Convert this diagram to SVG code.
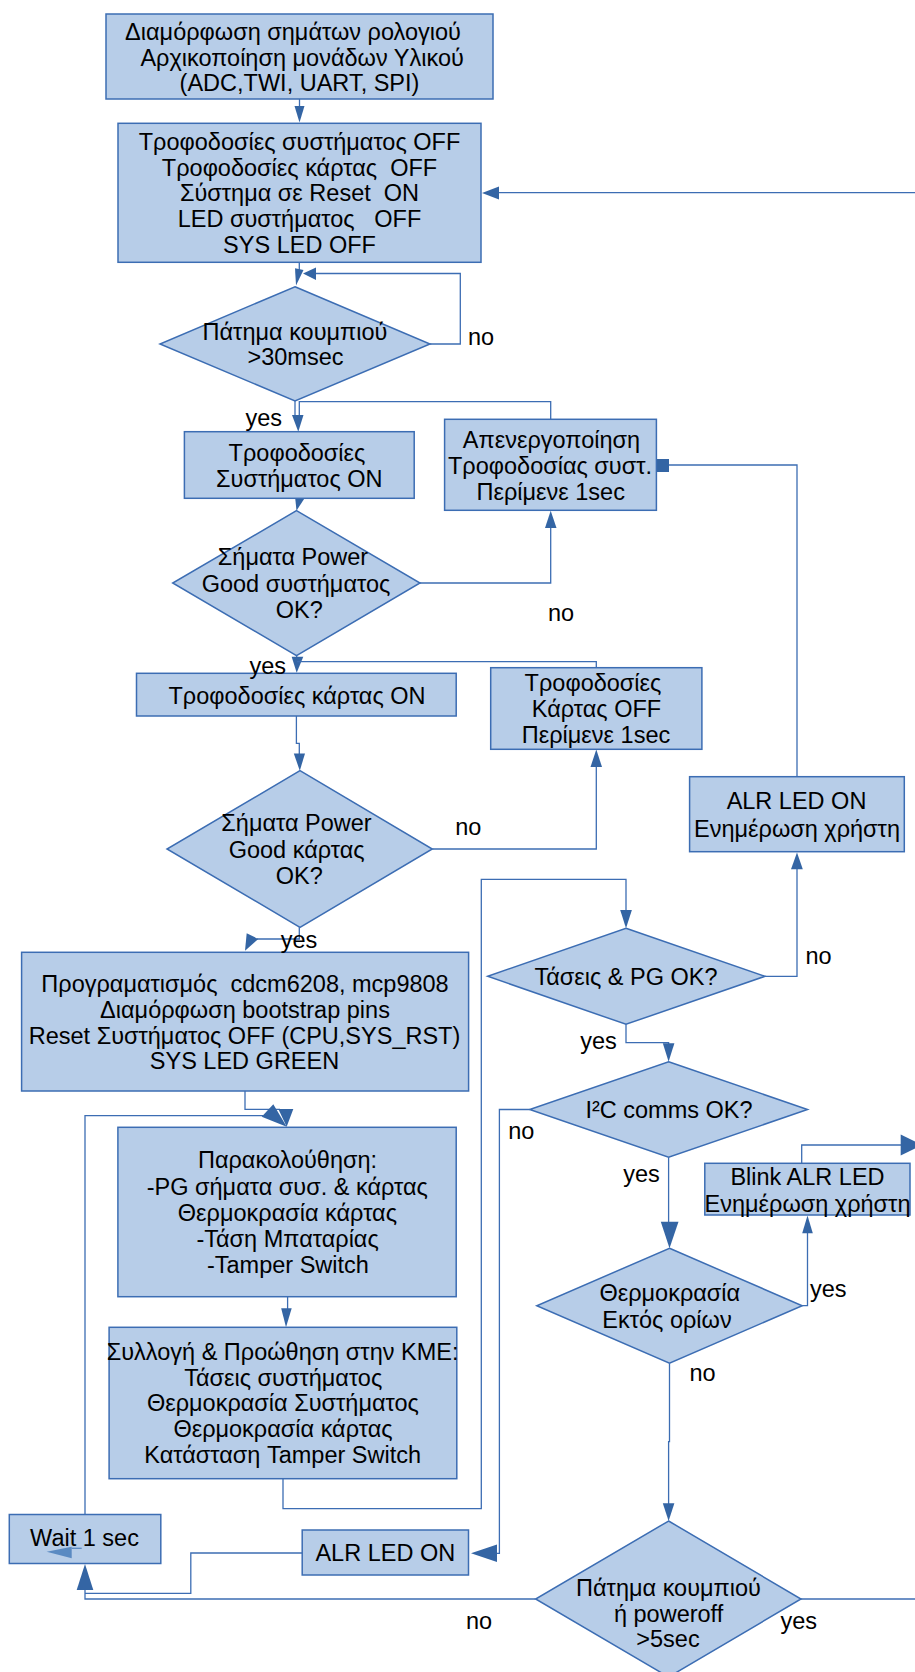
<svg xmlns="http://www.w3.org/2000/svg" width="915" height="1672" viewBox="0 0 915 1672">
<style>
.box{fill:#b7cde8;stroke:#3c6db3;stroke-width:1.5}
.ln{fill:none;stroke:#3c6db3;stroke-width:1.3}
.ah{fill:#3465a4;stroke:none}
text{font-family:"Liberation Sans",Arial,sans-serif;font-size:23.5px;fill:#000;text-anchor:middle;white-space:pre}
</style>
<rect width="915" height="1672" fill="#fff"/>
<g id="connectors">
<!-- box1 -> box2 -->
<path class="ln" d="M299.5,98 V108"/>
<polygon class="ah" points="294.5,106 304.5,106 299.5,122.5"/>
<!-- right edge -> box2 -->
<path class="ln" d="M915,192.7 H498"/>
<polygon class="ah" points="499,186.5 499,199.5 482,193"/>
<!-- box2 -> diamond1 -->
<path class="ln" d="M299.3,262.3 V270"/>
<polygon class="ah" points="295,268.3 303.5,270 296,285.5"/>
<!-- diamond1 no loop -->
<path class="ln" d="M430,344 H460.3 V273.5 H314"/>
<polygon class="ah" points="316,267.5 316,280 303,273.5"/>
<!-- diamond1 yes -> box3 -->
<path class="ln" d="M295,401 V416 M299.3,401 V416"/>
<polygon class="ah" points="292,415 303.5,415 298.3,431.7"/>
<!-- box4 top -> join -->
<path class="ln" d="M550.7,419.3 V401.7 H299.3"/>
<!-- box3 -> diamond2 -->
<polygon class="ah" points="295,496 306,496 296.5,510.7"/>
<!-- diamond2 no -> box4 -->
<path class="ln" d="M420,583 H550.7 V527"/>
<polygon class="ah" points="545,528 556.5,528 550.7,510.8"/>
<!-- diamond2 yes -> box5 -->
<path class="ln" d="M296.7,655.7 V658"/>
<polygon class="ah" points="291.7,656.7 303.3,656.7 296.7,672.7"/>
<path class="ln" d="M297,661.7 H596.3 V667.7"/>
<!-- box5 -> diamond3 -->
<path class="ln" d="M296.4,716 V743.3 H299.3 V755"/>
<polygon class="ah" points="293.8,753.5 305,753.5 299.8,770.7"/>
<!-- diamond3 no -> box6 -->
<path class="ln" d="M432.3,849 H596.3 V766"/>
<polygon class="ah" points="590.5,767 602,767 596.3,749.5"/>
<!-- box7 -> box4 -->
<path class="ln" d="M797,776.7 V465 H668"/>
<rect class="ah" x="656" y="459" width="13" height="13"/>
<!-- diamond3 yes -> box8 -->
<path class="ln" d="M299.3,927.3 V939 H257"/>
<polygon class="ah" points="246.7,933.3 258.3,939 245,950.7"/>
<!-- box8 -> box10 -->
<path class="ln" d="M245,1091 V1109.3 H280"/>
<polygon class="ah" points="278.3,1109 293.3,1109 286.7,1126.7"/>
<!-- wait -> box10 -->
<path class="ln" d="M85,1514.5 V1115.7 H263"/>
<polygon class="ah" points="261.7,1116.7 273.3,1104.3 286.7,1126.7"/>
<!-- box10 -> box11 -->
<path class="ln" d="M287.6,1296.7 V1309"/>
<polygon class="ah" points="281.2,1308.3 291.7,1308.3 286,1327.3"/>
<!-- box11 -> diamond4 -->
<path class="ln" d="M283,1478.7 V1508.7 H481.3 V879.3 H626 V911"/>
<polygon class="ah" points="620.2,910 631.9,910 626,928.3"/>
<!-- diamond4 no -> box7 -->
<path class="ln" d="M765,976.3 H797 V868"/>
<polygon class="ah" points="791,869.3 802.8,869.3 797,852.5"/>
<!-- diamond4 yes -> diamond5 -->
<path class="ln" d="M626,1024.3 V1042.7 H668.6 V1044"/>
<polygon class="ah" points="662.8,1043.3 674.4,1043.3 668.6,1061.7"/>
<!-- diamond5 no -> box12 -->
<path class="ln" d="M529.7,1109.5 H499.4 V1553.3 H496"/>
<polygon class="ah" points="497,1544.5 497,1562 471,1553.3"/>
<!-- diamond5 yes -> diamond6 -->
<path class="ln" d="M668.6,1157.3 V1223"/>
<polygon class="ah" points="660.8,1221.7 678.5,1221.7 669.5,1248.3"/>
<!-- diamond6 yes -> box9 -->
<path class="ln" d="M802.2,1305.7 H807.5 V1232"/>
<polygon class="ah" points="802.2,1233.3 812.8,1233.3 807.5,1215.5"/>
<!-- box9 -> right -->
<path class="ln" d="M801.7,1163.3 V1145 H902"/>
<polygon class="ah" points="900.7,1134.5 900.7,1155.5 922,1145"/>
<!-- diamond6 no -> diamond7 -->
<path class="ln" d="M669.5,1363.3 V1441.7 H668.6 V1504"/>
<polygon class="ah" points="662.8,1503.3 674.4,1503.3 668.6,1521"/>
<!-- diamond7 no -> wait -->
<path class="ln" d="M535.6,1599 H85 V1589"/>
<polygon class="ah" points="76.7,1590 93.3,1590 85,1564"/>
<!-- box12 -> wait -->
<path class="ln" d="M302.2,1553 H190.8 V1593.3 H85"/>
<!-- diamond7 yes -> right -->
<path class="ln" d="M801,1599 H915"/>
</g>
<g id="n1"><rect class="box" x="106" y="14" width="387" height="85"/>
<text x="293" y="40.3">Διαμόρφωση σημάτων ρολογιού</text>
<text x="299.5" y="65.7"> Αρχικοποίηση μονάδων Υλικού</text>
<text x="299.5" y="91.3">(ADC,TWI, UART, SPI)</text></g>
<g id="n2"><rect class="box" x="118" y="123.3" width="363" height="139"/>
<text x="299.5" y="149.7">Τροφοδοσίες συστήματος OFF</text>
<text x="299.5" y="175.7">Τροφοδοσίες κάρτας  OFF</text>
<text x="299.5" y="201.3">Σύστημα σε Reset  ON</text>
<text x="299.5" y="227.3">LED συστήματος   OFF</text>
<text x="299.5" y="253.3">SYS LED OFF</text></g>
<g id="n3"><polygon class="box" points="295,286.7 430,344 295,401 160,344"/>
<text x="295" y="340.3">Πάτημα κουμπιού</text>
<text x="295.5" y="365.3">&gt;30msec</text></g>
<g id="n4"><rect class="box" x="184.4" y="431.7" width="229.8" height="66.6"/>
<text x="297" y="460.7">Τροφοδοσίες</text>
<text x="299.3" y="486.7">Συστήματος ON</text></g>
<g id="n5"><rect class="box" x="444.6" y="419.3" width="211.8" height="91"/>
<text x="551.5" y="448">Απενεργοποίηση</text>
<text x="550" y="474">Τροφοδοσίας συστ.</text>
<text x="550.7" y="499.7">Περίμενε 1sec</text></g>
<g id="n6"><polygon class="box" points="296.5,510.7 420,583 296.5,655.7 172.7,583"/>
<text x="293" y="565.3">Σήματα Power</text>
<text x="296" y="592">Good συστήματος</text>
<text x="299.3" y="618">OK?</text></g>
<g id="n7"><rect class="box" x="136.5" y="673.3" width="319.7" height="42.7"/>
<text x="297" y="703.7">Τροφοδοσίες κάρτας ON</text></g>
<g id="n8"><rect class="box" x="490.7" y="667.7" width="211.2" height="81.6"/>
<text x="593" y="690.7">Τροφοδοσίες</text>
<text x="596.5" y="717.3">Κάρτας OFF</text>
<text x="596" y="743">Περίμενε 1sec</text></g>
<g id="n9"><rect class="box" x="689.6" y="776.7" width="214.7" height="75"/>
<text x="796.5" y="809">ALR LED ON</text>
<text x="797" y="837">Ενημέρωση χρήστη</text></g>
<g id="n10"><polygon class="box" points="300,770.7 432.3,849 300,927.3 167,849"/>
<text x="296.5" y="831.3">Σήματα Power</text>
<text x="296.7" y="858">Good κάρτας</text>
<text x="299.3" y="884">OK?</text></g>
<g id="n11"><rect class="box" x="21.6" y="952.3" width="447" height="138.7"/>
<text x="245" y="992">Προγραματισμός  cdcm6208, mcp9808</text>
<text x="245" y="1018">Διαμόρφωση bootstrap pins</text>
<text x="244.5" y="1043.7">Reset Συστήματος OFF (CPU,SYS_RST)</text>
<text x="244.5" y="1069">SYS LED GREEN</text></g>
<g id="n12"><polygon class="box" points="626,928.3 765,976.3 626,1024.3 487.7,976.3"/>
<text x="626" y="984.7">Τάσεις &amp; PG OK?</text></g>
<g id="n13"><polygon class="box" points="668.6,1061.7 807.5,1109.5 668.6,1157.3 529.7,1109.5"/>
<text x="669" y="1118">I²C comms OK?</text></g>
<g id="n14"><rect class="box" x="704.8" y="1163.3" width="205.2" height="51.7"/>
<text x="807.5" y="1184.7">Blink ALR LED</text>
<text x="807.5" y="1212">Ενημέρωση χρήστη</text></g>
<g id="n15"><rect class="box" x="117.9" y="1127.3" width="338.3" height="169.4"/>
<text x="287.5" y="1168">Παρακολούθηση:</text>
<text x="287.3" y="1194.7">-PG σήματα συσ. &amp; κάρτας</text>
<text x="287.4" y="1221.3">Θερμοκρασία κάρτας</text>
<text x="287.6" y="1247">-Τάση Μπαταρίας</text>
<text x="287.9" y="1273">-Tamper Switch</text></g>
<g id="n16"><rect class="box" x="109.1" y="1327.3" width="347.7" height="151.4"/>
<text x="282.6" y="1359.7">Συλλογή &amp; Προώθηση στην ΚΜΕ:</text>
<text x="283.2" y="1385.7">Τάσεις συστήματος</text>
<text x="282.9" y="1411.3">Θερμοκρασία Συστήματος</text>
<text x="283" y="1437.3">Θερμοκρασία κάρτας</text>
<text x="282.7" y="1463">Κατάσταση Tamper Switch</text></g>
<g id="n17"><polygon class="box" points="669.5,1248.3 802.2,1305.7 669.5,1363.3 536.8,1305.7"/>
<text x="669.8" y="1301.3">Θερμοκρασία</text>
<text x="667" y="1328">Εκτός ορίων</text></g>
<g id="n18"><rect class="box" x="9.3" y="1514.5" width="151.5" height="49"/>
<text x="84.5" y="1546.3">Wait 1 sec</text>
<path d="M71.7,1548.3 H81.7" stroke="#4a7ebb" stroke-width="1.3" opacity="0.85"/>
<polygon points="46.7,1551.7 71.7,1546.7 71.7,1558.3" fill="#4a7ebb" opacity="0.85"/></g>
<g id="n19"><rect class="box" x="302.2" y="1530" width="166.3" height="45"/>
<text x="385.3" y="1561.3">ALR LED ON</text></g>
<g id="n20"><polygon class="box" points="668.6,1521 801,1599 668.6,1677 535.6,1599"/>
<text x="668.5" y="1595.7">Πάτημα κουμπιού</text>
<text x="668.6" y="1622">ή poweroff</text>
<text x="668" y="1647.3">&gt;5sec</text></g>
<g id="labels">
<text x="481" y="344.7">no</text>
<text x="263.7" y="426">yes</text>
<text x="561" y="621.3">no</text>
<text x="267.8" y="673.7">yes</text>
<text x="468.2" y="834.7">no</text>
<text x="299" y="948">yes</text>
<text x="818.6" y="964">no</text>
<text x="598.6" y="1049">yes</text>
<text x="521.3" y="1138.7">no</text>
<text x="641.6" y="1182.3">yes</text>
<text x="828.3" y="1297.3">yes</text>
<text x="702.5" y="1381.3">no</text>
<text x="479" y="1629">no</text>
<text x="798.7" y="1629">yes</text>
</g>
</svg>
